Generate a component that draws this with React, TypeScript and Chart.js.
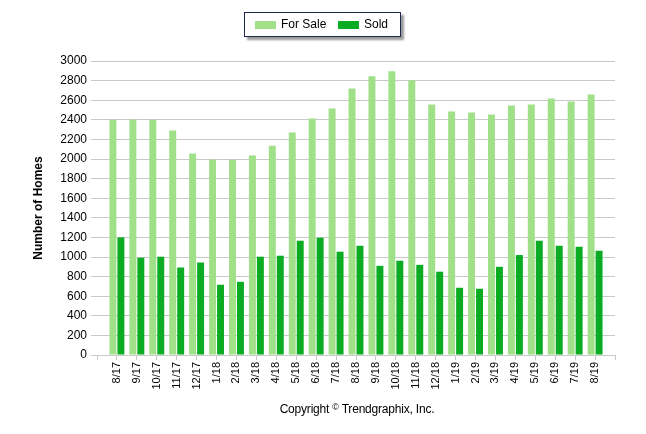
import React, { useEffect, useRef } from "react";
import { Chart, registerables } from "chart.js";

Chart.register(...registerables);

const months: string[] = [
  "8/17", "9/17", "10/17", "11/17", "12/17", "1/18", "2/18", "3/18", "4/18",
  "5/18", "6/18", "7/18", "8/18", "9/18", "10/18", "11/18", "12/18", "1/19",
  "2/19", "3/19", "4/19", "5/19", "6/19", "7/19", "8/19",
];

const forSale: number[] = [
  2400, 2400, 2400, 2290, 2055, 1993, 1993, 2035, 2136, 2270, 2413, 2515,
  2720, 2844, 2895, 2803, 2556, 2485, 2475, 2454, 2546, 2556, 2617, 2587, 2658,
];

const sold: number[] = [
  1200, 993, 1003, 893, 944, 717, 747, 1003, 1013, 1166, 1197, 1054, 1115,
  910, 962, 920, 850, 686, 676, 900, 1020, 1166, 1115, 1105, 1064,
];

const yTicksMax = 3000;
const yTickStep = 200;

const FONT = "'Liberation Sans', Arial, sans-serif";
const LIGHT = "#A0E088";
const DARK = "#0BAC24";
const GRID = "#C8C8C8";

export default function App() {
  const ref = useRef<HTMLCanvasElement | null>(null);

  useEffect(() => {
    if (!ref.current) return;
    const labels = ["", ...months, ""];
    const chart = new Chart(ref.current, {
      type: "bar",
      data: {
        labels,
        datasets: [
          {
            label: "For Sale",
            data: [null, ...forSale, null],
            backgroundColor: LIGHT,
            categoryPercentage: 0.8,
            barPercentage: 0.875,
          },
          {
            label: "Sold",
            data: [null, ...sold, null],
            backgroundColor: DARK,
            categoryPercentage: 0.8,
            barPercentage: 0.875,
          },
        ],
      },
      options: {
        animation: false,
        responsive: true,
        maintainAspectRatio: false,
        layout: { padding: { left: 0, top: 61, right: 31, bottom: 0 } },
        plugins: {
          legend: { display: false },
          tooltip: { enabled: false },
          title: { display: false },
        },
        scales: {
          x: {
            type: "category",
            offset: false,
            grid: {
              offset: false,
              drawOnChartArea: false,
              drawTicks: true,
              tickLength: 5,
              color: GRID,
            },
            border: { display: true, color: GRID, width: 1 },
            ticks: {
              autoSkip: false,
              minRotation: 90,
              maxRotation: 90,
              padding: 2,
              color: "#000",
              font: { family: FONT, size: 11 },
            },
            afterFit: (s: any) => {
              s.height = 79;
            },
          },
          y: {
            min: 0,
            max: yTicksMax,
            ticks: {
              stepSize: yTickStep,
              padding: 4,
              color: "#000",
              font: { family: FONT, size: 12 },
              callback: (v: any) => String(v),
            },
            grid: {
              color: GRID,
              lineWidth: 1,
              tickLength: 6,
            },
            border: { display: false },
            title: {
              display: true,
              text: "Number of Homes",
              color: "#000",
              font: { family: FONT, size: 12, weight: "bold" },
              padding: { top: 31, bottom: 0 },
            },
            afterFit: (s: any) => {
              s.width = 97;
            },
          },
        },
      },
    });
    return () => chart.destroy();
  }, []);

  return (
    <div
      style={{
        position: "absolute",
        left: 0,
        top: 0,
        width: 646,
        height: 434,
        background: "#fff",
        fontFamily: FONT,
      }}
    >
      <canvas ref={ref} />
      <div
        style={{
          position: "absolute",
          left: 244,
          top: 12,
          width: 155,
          height: 23,
          border: "1.5px solid #1E2A4A",
          boxShadow: "3px 3px 2px #9a9a9a",
          background: "#fff",
          fontSize: 12,
          color: "#000",
        }}
      >
        <div style={{ position: "absolute", left: 10, top: 8, width: 21, height: 8, background: LIGHT }} />
        <div style={{ position: "absolute", left: 36, top: 4, lineHeight: "14px" }}>For Sale</div>
        <div style={{ position: "absolute", left: 93, top: 8, width: 21, height: 8, background: DARK }} />
        <div style={{ position: "absolute", left: 119, top: 4, lineHeight: "14px" }}>Sold</div>
      </div>
      <div
        style={{
          position: "absolute",
          left: 257,
          top: 402,
          width: 200,
          textAlign: "center",
          fontSize: 12,
          lineHeight: "14px",
          color: "#000",
          letterSpacing: "-0.2px",
        }}
      >
        Copyright <span style={{ fontSize: 9, position: "relative", top: -3 }}>©</span> Trendgraphix, Inc.
      </div>
    </div>
  );
}
